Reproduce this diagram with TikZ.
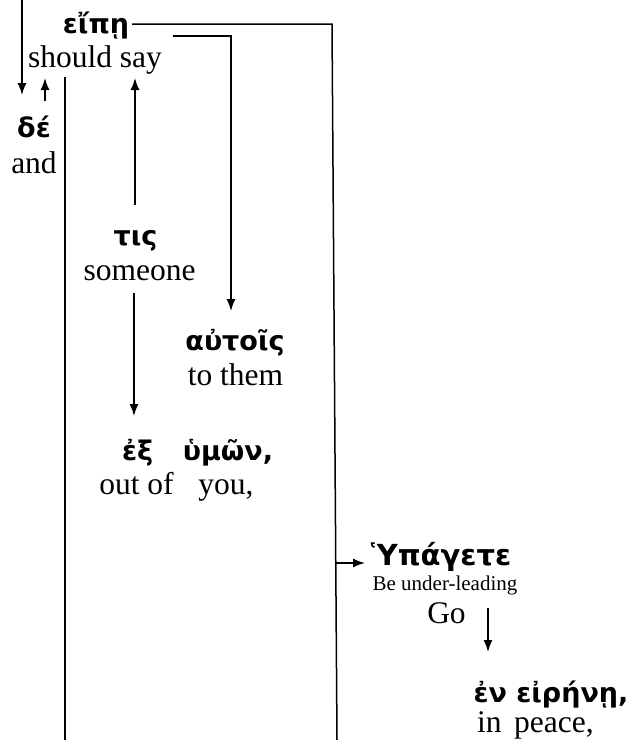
\documentclass[tikz,border=0pt]{standalone}
\usepackage{fontspec}
\setmainfont{Liberation Serif}
\newfontfamily\grk{DejaVu Sans}
\usetikzlibrary{arrows.meta}
\begin{document}
\begin{tikzpicture}[x=1pt,y=-1pt,
  en/.style={font=\fontsize{31.5}{36}\selectfont, inner sep=0pt, anchor=base},
  gr/.style={font=\grk\bfseries\fontsize{27}{31}\selectfont, inner sep=0pt, anchor=base},
  ln/.style={line width=1.5pt},
  ar/.style={line width=1.5pt,-{Latex[length=12pt,width=9pt]}}]
\useasboundingbox (0,0) rectangle (631,740);
% words
\node[gr] (eipe) at (96,33) {εἴπῃ};
\node[en] (should) at (95,67) {should say};
\node[gr] (de) at (34,137) {δέ};
\node[en] (and) at (34,173) {and};
\node[gr] (tis) at (135.5,245) {τις};
\node[en] (someone) at (139.5,280) {someone};
\node[gr] (autois) at (235,350) {αὐτοῖς};
\node[en] (tothem) at (235.5,385) {to them};
\node[gr] (ex) at (137.5,460) {ἐξ};
\node[gr] (hymon) at (228,460) {ὑμῶν,};
\node[en] (outof) at (136.5,494) {out of};
\node[en] (you) at (226,494) {you,};
\node[gr,font=\grk\bfseries\fontsize{29}{33}\selectfont] (hypagete) at (441,565) {Ὑπάγετε};
\node[en,font=\fontsize{21}{24}\selectfont] (under) at (445,590) {Be under-leading};
\node[en] (go) at (446.5,623) {Go};
\node[gr] (enei) at (551,702) {ἐν εἰρήνῃ,};
\node[en,anchor=base west] (in) at (477,732) {in};
\node[en,anchor=base west] (peace) at (514,732) {peace,};
% connector points
\coordinate (topin) at (22,0);
\coordinate (deL) at (22,95);
\coordinate (deR) at (45,101);
\coordinate (shL) at (45,78);
\coordinate (eipeR) at (132,24);
\coordinate (rc) at (332,24);
\coordinate (rb) at (337,740);
\coordinate (hy) at (336.3,563);
\coordinate (hyin) at (365,563);
\coordinate (s2) at (173,36);
\coordinate (s2c) at (231,36);
\coordinate (auN) at (231,311);
\coordinate (lt) at (65,77);
\coordinate (lb) at (65,740);
\coordinate (tisN) at (135,205);
\coordinate (shB) at (135,78);
\coordinate (soS) at (134,293);
\coordinate (exN) at (134,416);
\coordinate (goA) at (488,608);
\coordinate (goB) at (488,652);
% connectors
\draw[ar] (topin) -- (deL);
\draw[ar] (deR) -- (shL);
\draw[ln] (eipeR) -- (rc) -- (rb);
\draw[ar] (s2) -- (s2c) -- (auN);
\draw[ln] (lt) -- (lb);
\draw[ar] (tisN) -- (shB);
\draw[ar] (soS) -- (exN);
\draw[ar] (hy) -- (hyin);
\draw[ar] (goA) -- (goB);
\end{tikzpicture}
\end{document}
